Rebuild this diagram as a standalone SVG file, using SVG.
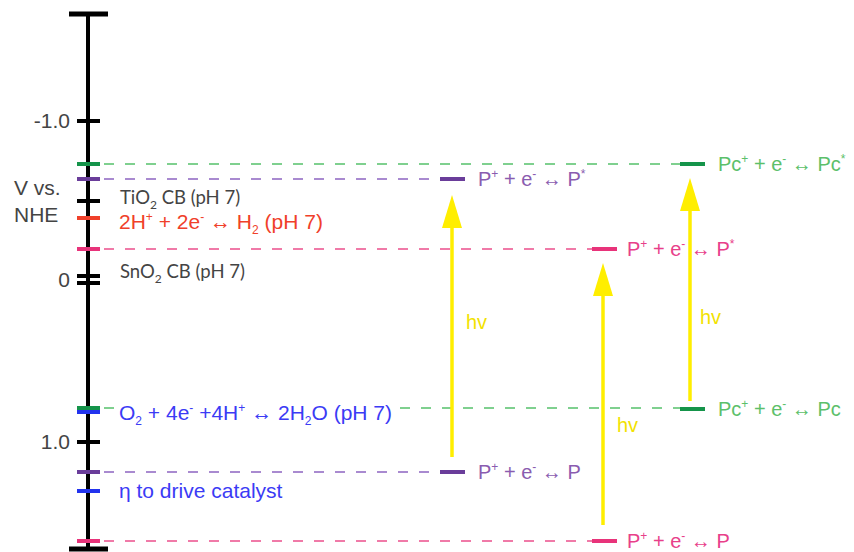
<svg xmlns="http://www.w3.org/2000/svg" width="854" height="552" viewBox="0 0 854 552">
<defs>
<style>
.ax{stroke:#000;stroke-width:4;fill:none}
.tk{stroke-width:4;fill:none}
.lv{stroke-width:4;fill:none}
.dg{stroke:#7fd08f;stroke-width:2;stroke-dasharray:10 11;fill:none}
.dp{stroke:#a98ad0;stroke-width:2;stroke-dasharray:10 11;fill:none}
.dk{stroke:#f07aa8;stroke-width:2;stroke-dasharray:10 11;fill:none}
.yl{stroke:#ffee00;stroke-width:3.5;fill:none}
.ah{fill:#ffee00}
.t{font-family:"Liberation Sans",Arial,sans-serif;font-size:20px}
.big{font-size:21px}
.eq{font-size:21px}
.l{font-family:Lato,"Liberation Sans",sans-serif;font-size:18.5px;fill:#444}
.gr{fill:#444}
.s{font-size:12px}
</style>
</defs>

<g id="axis">
<line class="ax" x1="88" y1="14" x2="88" y2="549"/>
<line x1="69" y1="14" x2="108" y2="14" stroke="#000" stroke-width="5"/>
<line x1="69" y1="549" x2="108" y2="549" stroke="#000" stroke-width="5"/>
<line class="tk" stroke="#000" x1="77" y1="121" x2="100" y2="121"/>
<line class="tk" stroke="#000" x1="77" y1="201" x2="100" y2="201"/>
<line class="tk" stroke="#000" x1="77" y1="276" x2="100" y2="276"/>
<line class="tk" stroke="#000" x1="77" y1="283" x2="100" y2="283"/>
<line class="tk" stroke="#000" x1="77" y1="442" x2="100" y2="442"/>
<line class="tk" stroke="#15944a" x1="77" y1="164" x2="100" y2="164"/>
<line class="tk" stroke="#6a3d9a" x1="77" y1="179" x2="100" y2="179"/>
<line class="tk" stroke="#f0402a" x1="77" y1="218" x2="100" y2="218"/>
<line class="tk" stroke="#e8337a" x1="77" y1="249" x2="100" y2="249"/>
<line class="tk" stroke="#15944a" x1="77" y1="408" x2="100" y2="408"/>
<line class="tk" stroke="#2233ee" x1="77" y1="412" x2="100" y2="412"/>
<line class="tk" stroke="#6a3d9a" x1="77" y1="472" x2="100" y2="472"/>
<line class="tk" stroke="#2233ee" x1="77" y1="491" x2="100" y2="491"/>
<line class="tk" stroke="#e8337a" x1="77" y1="541" x2="100" y2="541"/>
<text class="t big gr" x="70" y="128" text-anchor="end">-1.0</text>
<text class="t big gr" x="70" y="287" text-anchor="end">0</text>
<text class="t big gr" x="70" y="449" text-anchor="end">1.0</text>
<text class="t big gr" x="14" y="195">V vs.</text>
<text class="t big gr" x="14" y="222">NHE</text>
</g>

<g id="ref-labels">
<text class="l" x="120" y="204">TiO<tspan class="s" dy="5">2</tspan><tspan dy="-5"> CB (pH 7)</tspan></text>
<text class="l" x="120" y="278">SnO<tspan class="s" dy="5">2</tspan><tspan dy="-5"> CB (pH 7)</tspan></text>
<text class="t eq" x="119" y="229" fill="#f0402a">2H<tspan class="s" dy="-8">+</tspan><tspan dy="8"> + 2e</tspan><tspan class="s" dy="-8">-</tspan><tspan dy="8"> ↔ H</tspan><tspan class="s" dy="5">2</tspan><tspan dy="-5"> (pH 7)</tspan></text>
<text class="t eq" x="119" y="420" fill="#3b3bf5">O<tspan class="s" dy="5">2</tspan><tspan dy="-5"> + 4e</tspan><tspan class="s" dy="-8">-</tspan><tspan dy="8"> +4H</tspan><tspan class="s" dy="-8">+</tspan><tspan dy="8"> ↔ 2H</tspan><tspan class="s" dy="5">2</tspan><tspan dy="-5">O (pH 7)</tspan></text>
<text class="t big" x="119" y="498" fill="#3b3bf5">η to drive catalyst</text>
</g>

<g id="connectors">
<line class="dg" x1="104" y1="164" x2="680" y2="164"/>
<line class="dp" x1="104" y1="179" x2="440" y2="179"/>
<line class="dk" x1="104" y1="249" x2="592" y2="249"/>
<line class="dg" x1="104" y1="408" x2="114" y2="408"/>
<line class="dg" x1="400" y1="408" x2="680" y2="408"/>
<line class="dp" x1="104" y1="472" x2="440" y2="472"/>
<line class="dk" x1="104" y1="541" x2="592" y2="541"/>
<line class="yl" x1="452" y1="457" x2="452" y2="226"/>
<polygon class="ah" points="452,195 462,228 442,228"/>
<line class="yl" x1="603" y1="525" x2="603" y2="294"/>
<polygon class="ah" points="603,263 613,296 593,296"/>
<line class="yl" x1="690" y1="401" x2="690" y2="209"/>
<polygon class="ah" points="690,178 700,211 680,211"/>
<text class="t" x="466" y="329" fill="#f2e200">hv</text>
<text class="t" x="617" y="432" fill="#f2e200">hv</text>
<text class="t" x="700" y="324" fill="#f2e200">hv</text>
</g>

<g id="P-excited">
<line class="lv" stroke="#6a3d9a" x1="440" y1="179" x2="465" y2="179"/>
<text class="t" x="478" y="186" fill="#8a5cb0">P<tspan class="s" dy="-8">+</tspan><tspan dy="8"> + e</tspan><tspan class="s" dy="-8">-</tspan><tspan dy="8"> ↔ P</tspan><tspan class="s" dy="-8">*</tspan></text>
</g>
<g id="P-ground">
<line class="lv" stroke="#6a3d9a" x1="440" y1="472" x2="465" y2="472"/>
<text class="t" x="478" y="479" fill="#8a5cb0">P<tspan class="s" dy="-8">+</tspan><tspan dy="8"> + e</tspan><tspan class="s" dy="-8">-</tspan><tspan dy="8"> ↔ P</tspan></text>
</g>
<g id="P2-excited">
<line class="lv" stroke="#e8337a" x1="592" y1="249" x2="617" y2="249"/>
<text class="t" x="627" y="256" fill="#e8408a">P<tspan class="s" dy="-8">+</tspan><tspan dy="8"> + e</tspan><tspan class="s" dy="-8">-</tspan><tspan dy="8"> ↔ P</tspan><tspan class="s" dy="-8">*</tspan></text>
</g>
<g id="P2-ground">
<line class="lv" stroke="#e8337a" x1="592" y1="541" x2="617" y2="541"/>
<text class="t" x="627" y="548" fill="#e8408a">P<tspan class="s" dy="-8">+</tspan><tspan dy="8"> + e</tspan><tspan class="s" dy="-8">-</tspan><tspan dy="8"> ↔ P</tspan></text>
</g>
<g id="Pc-excited">
<line class="lv" stroke="#15944a" x1="680" y1="164" x2="705" y2="164"/>
<text class="t" x="718" y="171" fill="#5cc06a">Pc<tspan class="s" dy="-8">+</tspan><tspan dy="8"> + e</tspan><tspan class="s" dy="-8">-</tspan><tspan dy="8"> ↔ Pc</tspan><tspan class="s" dy="-8">*</tspan></text>
</g>
<g id="Pc-ground">
<line class="lv" stroke="#15944a" x1="680" y1="409" x2="705" y2="409"/>
<text class="t" x="718" y="416" fill="#5cc06a">Pc<tspan class="s" dy="-8">+</tspan><tspan dy="8"> + e</tspan><tspan class="s" dy="-8">-</tspan><tspan dy="8"> ↔ Pc</tspan></text>
</g>
</svg>
